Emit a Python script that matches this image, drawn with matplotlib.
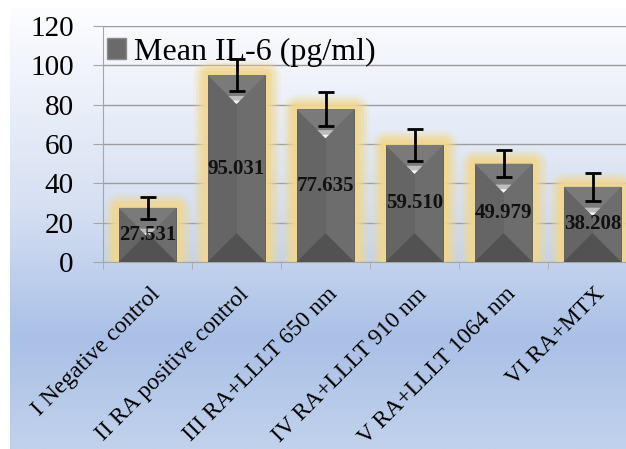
import matplotlib

matplotlib.use("Agg")
import matplotlib.pyplot as plt
import matplotlib.patheffects as pe
import numpy as np
from matplotlib.colors import LinearSegmentedColormap
from matplotlib.patches import Patch, Polygon

groups = [
    "I Negative control",
    "II RA positive control",
    "III RA+LLLT 650 nm",
    "IV RA+LLLT 910 nm",
    "V RA+LLLT 1064 nm",
    "VI RA+MTX",
]
mean_il6 = [27.531, 95.031, 77.635, 59.510, 49.979, 38.208]
sd_il6 = [5.5, 8.0, 8.7, 8.0, 7.0, 7.0]
value_labels = ["27.531", "95.031", "77.635", "59.510", "49.979", "38.208"]

W, H = 626, 449
plt.rcParams["font.family"] = ["Liberation Serif", "DejaVu Serif"]

fig = plt.figure(figsize=(W / 100, H / 100), dpi=100)

# chart-area background gradient (white at top -> pale blue)
bg = fig.add_axes([10 / W, 0.0, 1 - 10 / W, 1 - 8 / H], zorder=-10)
cmap = LinearSegmentedColormap.from_list(
    "bg", [(0, "#fdfdff"), (0.45, "#d6e0f2"), (0.75, "#aac0e6"), (1, "#c2d2ec")])
bg.imshow(np.linspace(0, 1, 256).reshape(-1, 1), aspect="auto", cmap=cmap,
          extent=[0, 1, 1, 0])
bg.set_axis_off()

# plot area (runs off the right edge like the original)
x0, x1, y0, y1 = 103, 637, 262, 26
ax = fig.add_axes([x0 / W, (H - y0) / H, (x1 - x0) / W, (y0 - y1) / H])
ax.set_facecolor("none")
ax.set_xlim(-0.5, len(groups) - 0.5)
ax.set_ylim(0, 120)
ax.set_yticks(range(0, 121, 20))
ax.yaxis.grid(True, color="#9c9c9c", lw=1.0)
ax.set_axisbelow(True)
for s in ("top", "right"):
    ax.spines[s].set_visible(False)
for s in ("left", "bottom"):
    ax.spines[s].set_color("#a6a6a6")
ax.tick_params(axis="y", length=7, color="#a6a6a6", labelsize=21, pad=14)

x = np.arange(len(groups))
ax.set_xticks(x)
ax.set_xticklabels([])
ax.set_xticks(np.arange(len(groups) + 1) - 0.5, minor=True)
ax.tick_params(axis="x", which="major", length=0)
ax.tick_params(axis="x", which="minor", length=5, color="#a6a6a6")

bw = 0.65
glow = [pe.Stroke(linewidth=w, foreground="#f2d88e", alpha=a, joinstyle="round")
        for w, a in ((22, 0.15), (18, 0.25), (14, 0.35), (10, 0.5), (6, 0.7))]
glow.append(pe.Normal())
bars = ax.bar(x, mean_il6, bw, color="#656565", edgecolor="#5a5a5a", lw=0.6, zorder=2)
for b in bars:
    b.set_path_effects(glow)

# pyramid bevel on each bar
fig.canvas.draw()
px_x = ax.transData.transform((1, 0))[0] - ax.transData.transform((0, 0))[0]
px_y = ax.transData.transform((0, 1))[1] - ax.transData.transform((0, 0))[1]
d = (bw / 2) * px_x / px_y
for xi, h in zip(x, mean_il6):
    l, r = xi - bw / 2, xi + bw / 2
    ax.add_patch(Polygon([(xi, 0), (r, 0), (r, h), (xi, h)], color="#6d6d6d", zorder=3, lw=0))
    ax.add_patch(Polygon([(l, h), (r, h), (xi, h - d)], color="#7a7a7a", zorder=4, lw=0))
    ax.add_patch(Polygon([(xi - bw * 0.14, h - d * 0.72), (xi + bw * 0.14, h - d * 0.72),
                          (xi, h - d)], color="#bdbdbd", zorder=4, lw=0))
    ax.add_patch(Polygon([(xi - bw * 0.06, h - d * 0.88), (xi + bw * 0.06, h - d * 0.88),
                          (xi, h - d)], color="#f4f4f4", zorder=4, lw=0))
    ax.add_patch(Polygon([(l, 0), (r, 0), (xi, d)], color="#525252", zorder=4, lw=0))

ax.errorbar(x, mean_il6, yerr=sd_il6, fmt="none", ecolor="black", elinewidth=2,
            capsize=6, capthick=2, zorder=6)

for xi, h, t in zip(x, mean_il6, value_labels):
    ax.text(xi, h / 2, t, ha="center", va="center", fontsize=15, fontweight="bold",
            color="#111111", zorder=7)

for xi, name in zip(x, groups):
    ax.text(xi + 0.02, -11, name, rotation=45, ha="right", va="top",
            rotation_mode="anchor", fontsize=17, transform=ax.transData,
            clip_on=False)

ax.legend([Patch(facecolor="#6a6a6a", edgecolor="#8a8a8a")], ["Mean IL-6 (pg/ml)"],
          loc="upper left", bbox_to_anchor=(-0.035, 1.045), frameon=False, fontsize=23,
          handlelength=0.6, handleheight=0.6, handletextpad=0.25, borderaxespad=0.3)

fig.savefig("out.png", dpi=100)
